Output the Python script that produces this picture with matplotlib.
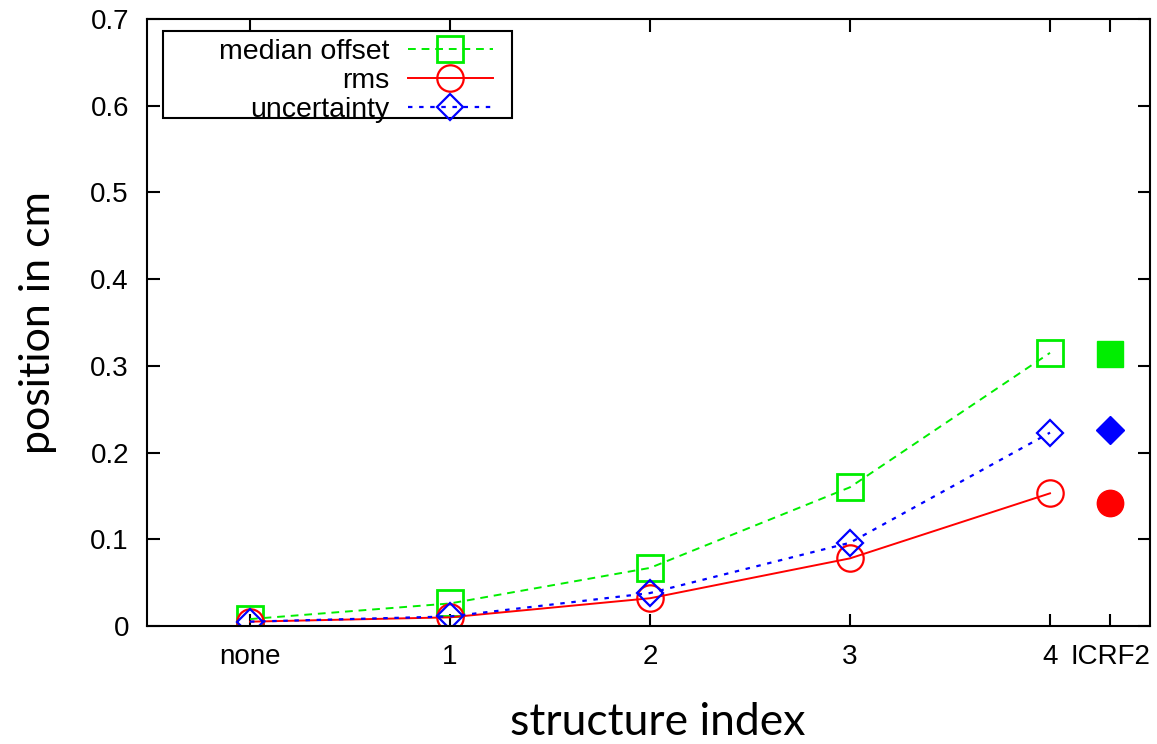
import matplotlib
matplotlib.use("Agg")
import matplotlib.pyplot as plt
from matplotlib.patches import Rectangle

categories = ["none", "1", "2", "3", "4"]
median_offset = [0.008, 0.026, 0.067, 0.160, 0.315]
rms = [0.005, 0.010, 0.032, 0.078, 0.153]
uncertainty = [0.005, 0.011, 0.038, 0.096, 0.223]
icrf2_label = "ICRF2"
icrf2_median = 0.314
icrf2_rms = 0.142
icrf2_unc = 0.226
y_ticks = [0, 0.1, 0.2, 0.3, 0.4, 0.5, 0.6, 0.7]

fig = plt.figure(figsize=(11.57, 7.44), dpi=100)
ax = fig.add_axes([147/1157, 1-626/744, (1150-147)/1157, (626-19)/744])

x = list(range(len(categories)))
x_icrf = 4.3
green = "#00ee00"
red = "#ff0000"
blue = "#0000ff"

ax.plot(x, median_offset, color=green, ls=(0, (4, 3)), lw=1.4, marker="s", ms=19,
        mfc="none", mec=green, mew=2, label="median offset")
ax.plot(x, rms, color=red, ls="-", lw=1.4, marker="o", ms=19,
        mfc="none", mec=red, mew=1.6, label="rms")
ax.plot(x, uncertainty, color=blue, ls=(0, (2, 3)), lw=1.6, marker="D", ms=13.5,
        mfc="none", mec=blue, mew=1.6, label="uncertainty")

ax.plot([x_icrf], [icrf2_median], marker="s", ms=19, color=green, mec=green, ls="none")
ax.plot([x_icrf], [icrf2_rms], marker="o", ms=19, color=red, mec=red, ls="none")
ax.plot([x_icrf], [icrf2_unc], marker="D", ms=14, color=blue, mec=blue, ls="none")

ax.set_xlim(-0.515, 4.5)
ax.set_ylim(0, 0.7)
ax.set_xticks(x + [x_icrf])
ax.set_xticklabels(categories + [icrf2_label], fontsize=20, family="Liberation Sans")
ax.set_yticks(y_ticks)
ax.set_yticklabels([("%g" % v) if v != 0 else "0" for v in y_ticks], fontsize=20,
                   family="Liberation Sans")
ax.tick_params(direction="in", length=9, width=1.5, top=True, right=True)
ax.tick_params(axis="y", pad=13)
ax.tick_params(axis="x", pad=13)
for s in ax.spines.values():
    s.set_linewidth(1.5)

ax.set_xlabel("structure index", fontsize=32, family="Lato", labelpad=23)
ax.xaxis.label.set_x(0.509)
ax.set_ylabel("position in cm", fontsize=31, family="Lato", labelpad=24)

# legend frame
frame = Rectangle((0.016, 0.837), 0.348, 0.143, transform=ax.transAxes,
                  facecolor="white", edgecolor="black", lw=1.5, zorder=4.9,
                  clip_on=False)
ax.add_patch(frame)
leg = ax.legend(loc="upper right", markerfirst=False, frameon=False,
                handlelength=3.0, handletextpad=0.65, labelspacing=0.1,
                borderpad=0.0, borderaxespad=0.0,
                bbox_to_anchor=(0.345, 0.967),
                prop={"family": "Liberation Sans", "size": 20.5})
for t in leg.get_texts():
    t.set_ha("right")
fig.savefig("out.png", dpi=100)
